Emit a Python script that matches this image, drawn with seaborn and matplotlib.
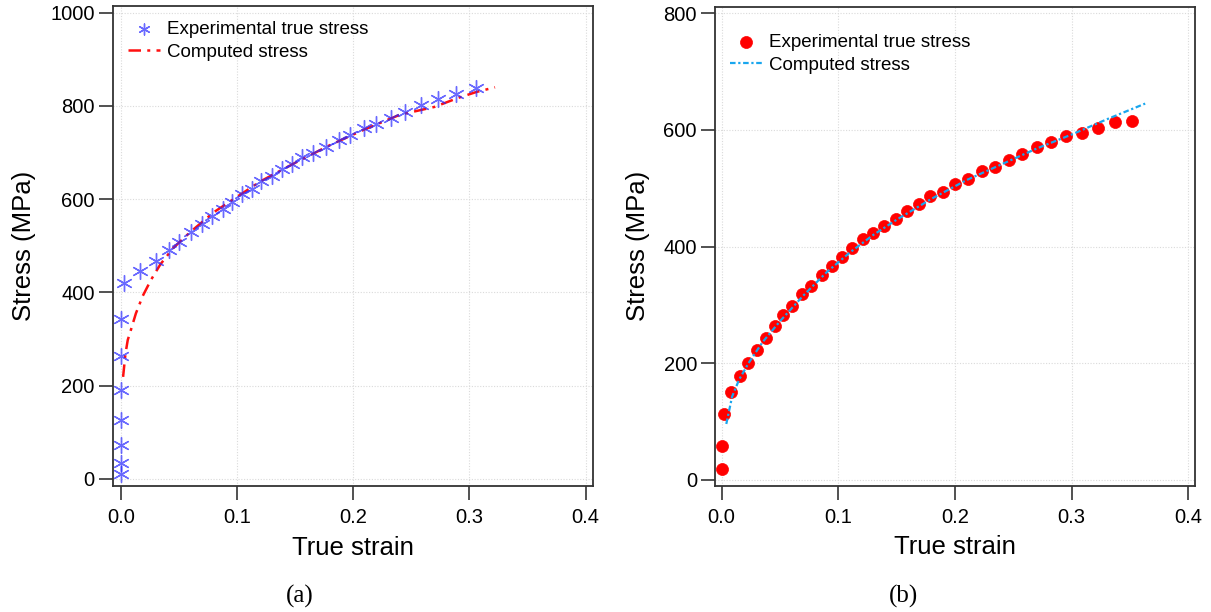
import numpy as np
import pandas as pd
import matplotlib
matplotlib.use("Agg")
import matplotlib.pyplot as plt
import seaborn as sns

# ---------------- data ----------------
# Panel (a)
a_exp_strain = [0.0, 0.0, 0.0, 0.0, 0.0, 0.0, 0.0, 0.003, 0.0164, 0.0307, 0.0414, 0.0503,
                0.060, 0.0695, 0.0784, 0.0876, 0.0954, 0.104, 0.1126, 0.121, 0.130, 0.139,
                0.147, 0.156, 0.1655, 0.1766, 0.1876, 0.1976, 0.209, 0.2193, 0.2326, 0.2449,
                0.2584, 0.2727, 0.2888, 0.306]
a_exp_stress = [11, 34, 72, 126, 190, 264, 343, 421, 447, 468, 491, 509,
                529, 546, 563, 579, 593, 612, 622, 638, 649, 665,
                675, 690, 700, 713, 728, 738, 753, 762, 775, 788,
                802, 815, 826, 838]
a_cmp_strain = [0.002, 0.004, 0.006, 0.009, 0.013, 0.019, 0.026, 0.034, 0.045, 0.06,
                0.08, 0.10, 0.12, 0.15, 0.18, 0.21, 0.24, 0.27, 0.29, 0.306, 0.322]
a_cmp_stress = [219, 268, 298, 322, 355, 393, 427, 460, 495, 530,
                572, 605, 638, 678, 716, 750, 781, 798, 817, 830, 840]

# Panel (b)
b_exp_strain = [0.0, 0.0003, 0.002, 0.008, 0.0157, 0.023, 0.0305, 0.038, 0.0454, 0.0528,
                0.0605, 0.0686, 0.0768, 0.0857, 0.0943, 0.1028, 0.1117, 0.1208, 0.1299,
                0.1393, 0.1491, 0.159, 0.169, 0.179, 0.1896, 0.2004, 0.211, 0.2228, 0.2342,
                0.2459, 0.2576, 0.27, 0.2822, 0.2953, 0.309, 0.3227, 0.337, 0.3518]
b_exp_stress = [18, 58, 113, 150, 179, 201, 222, 243, 264, 282,
                298, 319, 333, 351, 367, 382, 397, 413, 424,
                435, 448, 461, 473, 486, 494, 508, 516, 530, 537,
                549, 559, 570, 579, 589, 595, 604, 613, 615]
b_cmp_strain = [0.004, 0.009, 0.015, 0.023, 0.035, 0.05, 0.07, 0.09, 0.11, 0.13,
                0.15, 0.18, 0.21, 0.24, 0.27, 0.30, 0.33, 0.363]
b_cmp_stress = [96, 143, 172, 200, 236, 272, 316, 356, 390, 420,
                446, 482, 514, 541, 568, 592, 618, 645]

x_ticks = [0.0, 0.1, 0.2, 0.3, 0.4]
x_ticklabels = ["0.0", "0.1", "0.2", "0.3", "0.4"]
a_y_ticks = [0, 200, 400, 600, 800, 1000]
b_y_ticks = [0, 200, 400, 600, 800]
xlabel = "True strain"
ylabel = "Stress (MPa)"
legend_exp = "Experimental true stress"
legend_cmp = "Computed stress"
captions = ["(a)", "(b)"]

# ---------------- style ----------------
sns.set_style("ticks")
plt.rcParams["font.family"] = ["Liberation Sans", "DejaVu Sans"]
plt.rcParams["text.color"] = "black"
plt.rcParams["axes.labelcolor"] = "black"
plt.rcParams["xtick.labelcolor"] = "black"
plt.rcParams["ytick.labelcolor"] = "black"

fig = plt.figure(figsize=(12.11, 6.12), dpi=100)
ax1 = fig.add_axes([0.0931, 0.2059, 0.3966, 0.7848])
ax2 = fig.add_axes([0.5904, 0.2064, 0.3964, 0.7826])

dfa_e = pd.DataFrame({"strain": a_exp_strain, "stress": a_exp_stress})
dfa_c = pd.DataFrame({"strain": a_cmp_strain, "stress": a_cmp_stress})
dfb_e = pd.DataFrame({"strain": b_exp_strain, "stress": b_exp_stress})
dfb_c = pd.DataFrame({"strain": b_cmp_strain, "stress": b_cmp_stress})

# Panel (a)
sns.lineplot(data=dfa_c, x="strain", y="stress", ax=ax1, color="#FF1010",
             linestyle=(0, (5, 2.5, 1.2, 2.5)), linewidth=1.8, sort=False,
             estimator=None, label=legend_cmp, zorder=2)
sns.scatterplot(data=dfa_e, x="strain", y="stress", ax=ax1, marker=(6, 2, 0),
                s=130, color="#2B2BFF", linewidth=1.0, alpha=0.7,
                label=legend_exp, zorder=3)

# Panel (b)
sns.scatterplot(data=dfb_e, x="strain", y="stress", ax=ax2, marker="o",
                s=75, color="#FF0000", edgecolor="#FF0000", linewidth=0.5,
                label=legend_exp, zorder=2)
sns.lineplot(data=dfb_c, x="strain", y="stress", ax=ax2, color="#19A6EE",
             linestyle=(0, (2.5, 1.2, 1, 1.2)), linewidth=1.6, sort=False,
             estimator=None, label=legend_cmp, zorder=3)

for ax, yt, ylim, xlim, cap, capx, legy, mscale in [
        (ax1, a_y_ticks, (-15, 1015), (-0.0069, 0.4063), captions[0], 300, 1.0, 0.7),
        (ax2, b_y_ticks, (-9.8, 811), (-0.0057, 0.4057), captions[1], 904, 0.975, 1.0)]:
    ax.set_xlim(*xlim)
    ax.set_ylim(*ylim)
    ax.set_xticks(x_ticks)
    ax.set_xticklabels(x_ticklabels)
    ax.set_yticks(yt)
    ax.grid(True, color="#DADADA", linestyle=(0, (1, 1.5)), linewidth=0.8)
    ax.set_axisbelow(True)
    ax.tick_params(direction="out", length=10, width=1.2, labelsize=14.5,
                   color="#333333")
    ax.tick_params(axis="y", pad=3)
    ax.tick_params(axis="x", pad=6)
    for sp in ax.spines.values():
        sp.set_visible(True)
        sp.set_color("#333333")
        sp.set_linewidth(1.3)
    ax.set_xlabel(xlabel, fontsize=18.5, labelpad=6)
    ax.set_ylabel(ylabel, fontsize=18.5, labelpad=10)
    handles, labels = ax.get_legend_handles_labels()
    order = [labels.index(legend_exp), labels.index(legend_cmp)]
    ax.legend([handles[i] for i in order], [labels[i] for i in order],
              loc="upper left", frameon=False, fontsize=13.5,
              handlelength=1.7, handletextpad=0.4, labelspacing=0.3,
              borderaxespad=0.4, bbox_to_anchor=(0.0, legy), markerscale=mscale)
    fig.text(capx / 1211, 1 - 596 / 612, cap, ha="center", va="center",
             fontsize=18, family=["Liberation Serif", "DejaVu Serif"])

fig.savefig("out.png", dpi=100)
